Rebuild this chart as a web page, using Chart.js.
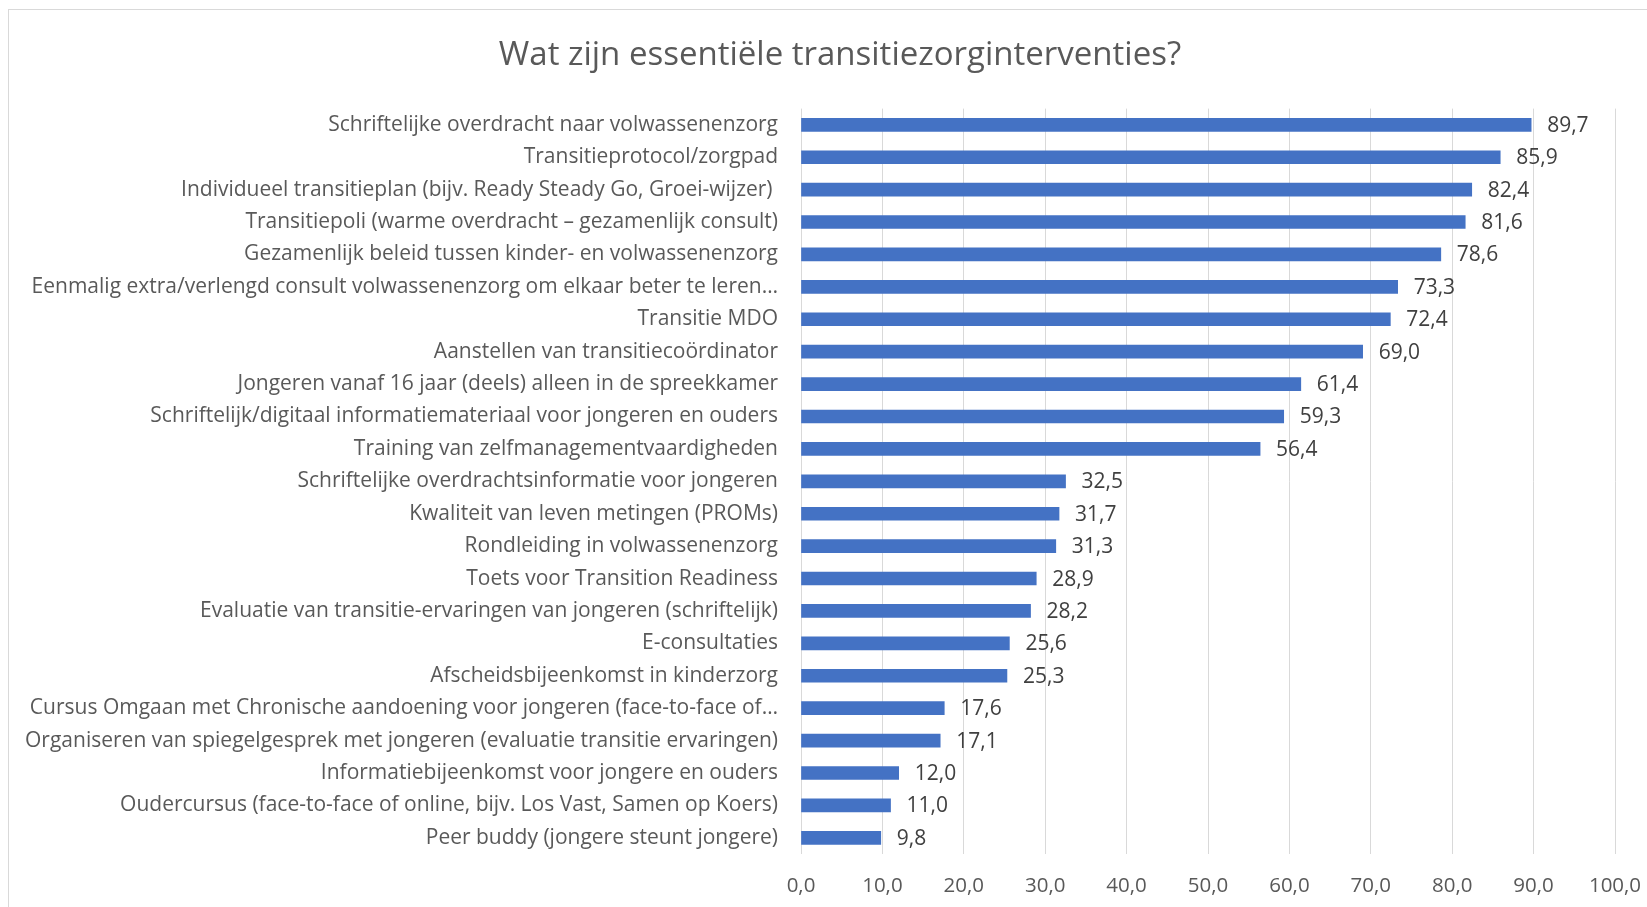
<!DOCTYPE html>
<html>
<head>
<meta charset="utf-8">
<script src="https://cdn.jsdelivr.net/npm/chart.js@4"></script>
<style>
  html, body { margin: 0; padding: 0; background: #fff; overflow: hidden; }
  #frame { position: absolute; left: 8px; top: 9px; width: 1720px; height: 1000px; border: 1px solid #d9d9d9; }
  #chart { position: absolute; left: 0; top: 0; }
</style>
</head>
<body>
<div id="frame"></div>
<canvas id="chart" width="1680" height="907"></canvas>
<script>
const titleText = 'Wat zijn essentiële transitiezorginterventies?';

const categories = [
  'Schriftelijke overdracht naar volwassenenzorg',
  'Transitieprotocol/zorgpad',
  'Individueel transitieplan (bijv. Ready Steady Go, Groei-wijzer) ',
  'Transitiepoli (warme overdracht – gezamenlijk consult)',
  'Gezamenlijk beleid tussen kinder- en volwassenenzorg',
  'Eenmalig extra/verlengd consult volwassenenzorg om elkaar beter te leren…',
  'Transitie MDO',
  'Aanstellen van transitiecoördinator',
  'Jongeren vanaf 16 jaar (deels) alleen in de spreekkamer',
  'Schriftelijk/digitaal informatiemateriaal voor jongeren en ouders',
  'Training van zelfmanagementvaardigheden',
  'Schriftelijke overdrachtsinformatie voor jongeren',
  'Kwaliteit van leven metingen (PROMs)',
  'Rondleiding in volwassenenzorg',
  'Toets voor Transition Readiness',
  'Evaluatie van transitie-ervaringen van jongeren (schriftelijk)',
  'E-consultaties',
  'Afscheidsbijeenkomst in kinderzorg',
  'Cursus Omgaan met Chronische aandoening voor jongeren (face-to-face of…',
  'Organiseren van spiegelgesprek met jongeren (evaluatie transitie ervaringen)',
  'Informatiebijeenkomst voor jongere en ouders',
  'Oudercursus (face-to-face of online, bijv. Los Vast, Samen op Koers)',
  'Peer buddy (jongere steunt jongere)'
];

const values = [89.7, 85.9, 82.4, 81.6, 78.6, 73.3, 72.4, 69.0, 61.4, 59.3, 56.4,
  32.5, 31.7, 31.3, 28.9, 28.2, 25.6, 25.3, 17.6, 17.1, 12.0, 11.0, 9.8];

const axisMin = 0;
const axisMax = 100;
const axisStep = 10;

const FONT = '"Open Sans", "DejaVu Sans", sans-serif';

// comma as decimal separator, one decimal
function fmt(v) {
  return Number(v).toFixed(1).replace('.', ',');
}

// value labels to the right of each bar
const valueLabels = {
  id: 'valueLabels',
  afterLayout(chart) {
    // centre the title a bit further right, like the original
    if (chart.titleBlock) chart.titleBlock.left = 65;
  },
  afterDatasetsDraw(chart) {
    const ctx = chart.ctx;
    const meta = chart.getDatasetMeta(0);
    ctx.save();
    ctx.font = '21px ' + FONT;
    ctx.fillStyle = '#404040';
    ctx.textBaseline = 'middle';
    ctx.textAlign = 'left';
    meta.data.forEach((bar, i) => {
      ctx.fillText(fmt(values[i]), bar.x + 16, bar.y + 1);
    });
    ctx.restore();
  }
};

const ctx = document.getElementById('chart').getContext('2d');
new Chart(ctx, {
  type: 'bar',
  data: {
    labels: categories,
    datasets: [{
      data: values,
      backgroundColor: '#4472C4',
      barThickness: 13
    }]
  },
  options: {
    indexAxis: 'y',
    responsive: false,
    animation: false,
    layout: { padding: { left: 0, right: 65, top: 0, bottom: 0 } },
    plugins: {
      legend: { display: false },
      tooltip: { enabled: false },
      title: {
        display: true,
        text: titleText,
        color: '#595959',
        font: { family: FONT, size: 33, weight: 'normal' },
        padding: { top: 36, bottom: 33 }
      }
    },
    scales: {
      x: {
        min: axisMin,
        max: axisMax,
        grid: { color: '#d9d9d9', lineWidth: 1, drawTicks: false },
        border: { display: false },
        ticks: {
          stepSize: axisStep,
          color: '#595959',
          padding: 20,
          font: { family: FONT, size: 20.5 },
          callback: v => fmt(v)
        },
        afterFit(scale) { scale.height = 53; }
      },
      y: {
        grid: { display: false, drawTicks: false },
        border: { display: false },
        ticks: {
          color: '#595959',
          padding: 23,
          autoSkip: false,
          font: { family: FONT, size: 21 }
        },
        afterFit(scale) { scale.width = 801; }
      }
    }
  },
  plugins: [valueLabels]
});
</script>
</body>
</html>
